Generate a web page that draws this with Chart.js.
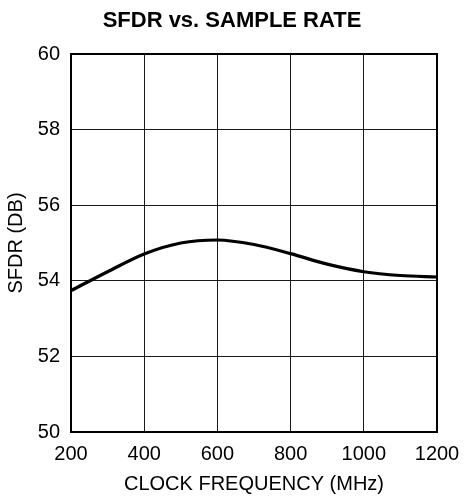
<!DOCTYPE html>
<html>
<head>
<meta charset="utf-8">
<title>SFDR vs. SAMPLE RATE</title>
<script src="https://cdn.jsdelivr.net/npm/chart.js@4.4.1/dist/chart.umd.min.js"></script>
<style>
  html, body { margin: 0; padding: 0; background: #fff; }
  #wrap { width: 464px; height: 497px; }
</style>
</head>
<body>
<div id="wrap"><canvas id="c" width="464" height="497"></canvas></div>
<script>
// Clock frequency (MHz) and measured SFDR (dB)
const clockMHz = [200, 300, 400, 500, 600, 700, 800, 900, 1000, 1100, 1200];
const sfdrDb   = [53.74, 54.24, 54.71, 55.00, 55.08, 54.96, 54.72, 54.44, 54.24, 54.14, 54.10];

const xTicks = [200, 400, 600, 800, 1000, 1200];
const yTicks = [50, 52, 54, 56, 58, 60];

const FONT = '"Liberation Sans", Arial, Helvetica, sans-serif';

// Heavy frame around the plotting area
const framePlugin = {
  id: 'frame',
  beforeDatasetsDraw(chart) {
    const { ctx, chartArea: a } = chart;
    ctx.save();
    ctx.strokeStyle = '#000';
    ctx.lineWidth = 2;
    ctx.strokeRect(a.left, a.top, a.right - a.left, a.bottom - a.top);
    ctx.restore();
  }
};

new Chart(document.getElementById('c'), {
  type: 'line',
  data: {
    datasets: [{
      data: clockMHz.map((x, i) => ({ x, y: sfdrDb[i] })),
      borderColor: '#000',
      borderWidth: 3.2,
      pointRadius: 0,
      tension: 0.4,
      cubicInterpolationMode: 'monotone',
      fill: false
    }]
  },
  options: {
    responsive: false,
    animation: false,
    devicePixelRatio: 1,
    layout: { padding: 0 },
    plugins: {
      legend: { display: false },
      tooltip: { enabled: false },
      title: {
        display: true,
        text: 'SFDR vs. SAMPLE RATE',
        color: '#000',
        font: { family: FONT, size: 22, weight: 'bold', lineHeight: 1.2 },
        padding: { top: 7.8, bottom: 19.8 }
      }
    },
    scales: {
      x: {
        type: 'linear',
        min: 200,
        max: 1200,
        afterBuildTicks(scale) { scale.ticks = xTicks.map(v => ({ value: v })); },
        afterFit(scale) {
          scale.height = 65;
          scale.paddingLeft = 0;
          scale.paddingRight = 27;
        },
        ticks: {
          color: '#000',
          padding: 10,
          font: { family: FONT, size: 20 },
          maxRotation: 0,
          callback: v => String(v)
        },
        grid: { color: '#1a1a1a', lineWidth: 1, drawTicks: false },
        border: { display: false },
        title: {
          display: true,
          text: 'CLOCK FREQUENCY (MHz)',
          color: '#000',
          font: { family: FONT, size: 20, lineHeight: 1.2 },
          padding: { top: 1, bottom: 1 }
        }
      },
      y: {
        min: 50,
        max: 60,
        afterBuildTicks(scale) { scale.ticks = yTicks.map(v => ({ value: v })); },
        afterFit(scale) { scale.width = 71; },
        ticks: {
          color: '#000',
          padding: 11,
          font: { family: FONT, size: 20 },
          callback: v => String(v)
        },
        grid: { color: '#1a1a1a', lineWidth: 1, drawTicks: false },
        border: { display: false },
        title: {
          display: true,
          text: 'SFDR (DB)',
          color: '#000',
          font: { family: FONT, size: 20, lineHeight: 1.2 },
          padding: { top: 4, bottom: 0 }
        }
      }
    }
  },
  plugins: [framePlugin]
});
</script>
</body>
</html>
